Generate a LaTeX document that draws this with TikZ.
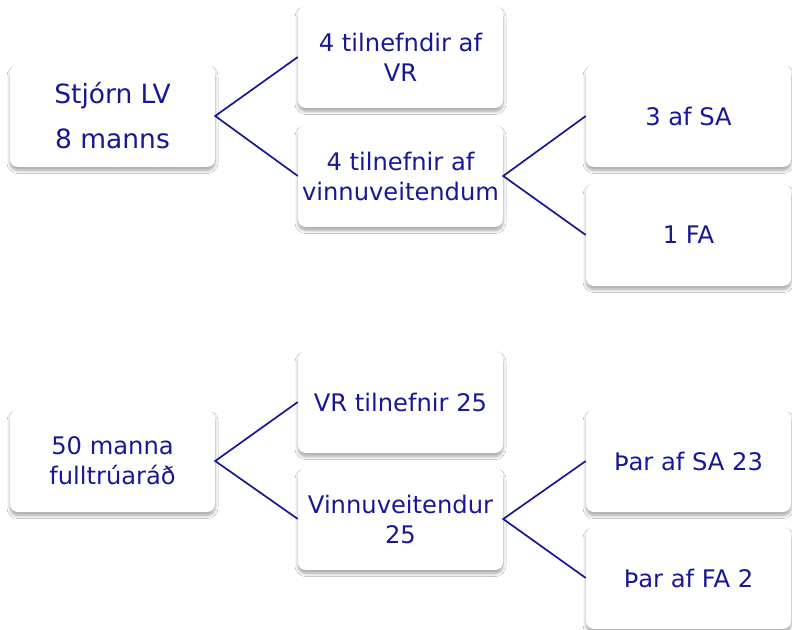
\documentclass[tikz,border=0pt]{standalone}
\usepackage{fontspec}
\setmainfont{DejaVu Sans}
\usetikzlibrary{shadows.blur}
\definecolor{navy}{RGB}{24,24,150}
\begin{document}
\begin{tikzpicture}[x=1pt,y=-1pt,
  box/.style={rectangle, rounded corners=8pt, minimum width=205pt, minimum height=102pt,
    inner sep=0pt, fill=white, text=navy, align=center,
    font=\fontsize{24.2}{30}\selectfont,
    blur shadow={shadow xshift=0pt, shadow yshift=-3.5pt, shadow blur radius=3pt, shadow blur steps=8, shadow opacity=35}},
  conn/.style={draw=navy, line width=1.7pt}]
\useasboundingbox (0,0) rectangle (792,629);
\fill[white] (0,0) rectangle (792,629);
% top diagram
\node[box, font=\fontsize{26.5}{45}\selectfont] (s1) at (112.5,116) {Stjórn LV\\8 manns};
\node[box] (a) at (400.5,57) {4 tilnefndir af\\VR};
\node[box] (b) at (400.5,176) {4 tilnefnir af\\vinnuveitendum};
\node[box] (sa) at (688.5,116) {3 af SA};
\node[box] (fa) at (688.5,235) {1 FA};
\draw[conn] (a.west) -- (s1.east) -- (b.west);
\draw[conn] (sa.west) -- (b.east) -- (fa.west);
% bottom diagram
\node[box] (f50) at (112.5,461) {50 manna\\fulltrúaráð};
\node[box] (vr) at (400.5,402) {VR tilnefnir 25};
\node[box] (vin) at (400.5,519) {Vinnuveitendur\\25};
\node[box] (sa23) at (688.5,461) {Þar af SA 23};
\node[box] (fa2) at (688.5,578) {Þar af FA 2};
\draw[conn] (vr.west) -- (f50.east) -- (vin.west);
\draw[conn] (sa23.west) -- (vin.east) -- (fa2.west);
\end{tikzpicture}
\end{document}
